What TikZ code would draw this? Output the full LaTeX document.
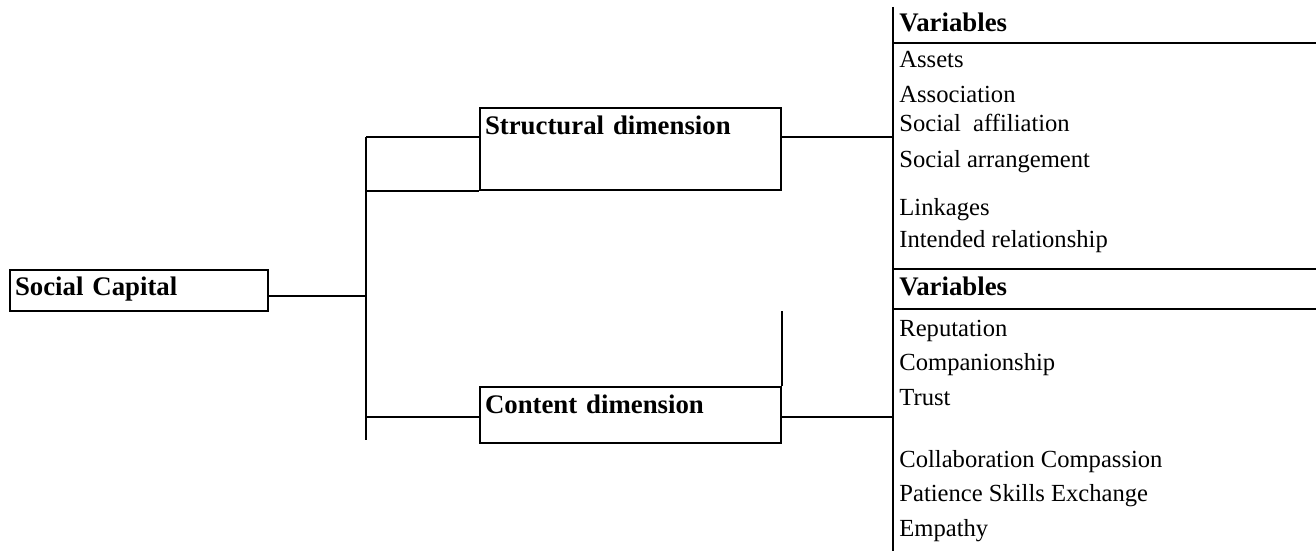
\documentclass[tikz,border=0pt]{standalone}
\usepackage{fontspec}
\setmainfont{Liberation Serif}
\begin{document}
\begin{tikzpicture}[x=0.5pt,y=-0.5pt]

    \tikzset{
      dimbox/.style={
        draw,
        line width=1pt,
        anchor=north west,
        inner xsep=2.5pt,
        inner ysep=0pt,
        font=\fontsize{13.4}{15}\selectfont\bfseries,
      },
      varlabel/.style={
        anchor=base west,
        inner sep=0pt,
        font=\fontsize{12.3}{14}\selectfont,
      },
      varhead/.style={
        varlabel,
        font=\fontsize{13.4}{15}\selectfont\bfseries,
      },
      link/.style={line width=1pt},
    }
    \useasboundingbox (0,0) rectangle (1316,551);

	\node[dimbox, text width=124pt, text height=12.5pt, text depth=8pt] (capital) at (9,269) {Social Capital};
	\node[dimbox, text width=145.5pt, text height=13pt, text depth=28pt] (structural) at (479,107) {Structural dimension};
	\node[dimbox, text width=145.5pt, text height=13pt, text depth=15pt] (content) at (479,386) {Content dimension};

	\coordinate (trunktop) at (366,137);
	\coordinate (trunkbot) at (366,440);
	\coordinate (capjoin) at (366,296);
	\coordinate (contjoin) at (366,417);
	\coordinate (rail) at (893,7);
	\coordinate (railend) at (893,551);

	\draw[link] (capital.east |- capjoin) -- (capjoin);
	\draw[link] (trunktop) -- (trunkbot);
	\draw[link] (trunktop) -- (trunktop -| structural.west);
	\draw[link] (trunktop |- structural.south west) -- (structural.south west);
	\draw[link] (contjoin) -- (contjoin -| content.west);
	\draw[link] (structural.east |- trunktop) -- (trunktop -| rail);
	\draw[link] (content.east |- contjoin) -- (contjoin -| rail);
	\draw[link] (content.north east) -- ++(0,-75);
	\draw[link] (rail) -- (railend);
	\foreach \y in {43,269,309} \draw[link] (893,\y) -- (1316,\y);

	\node[varhead] (head-struct) at (899,32) {Variables};
	\node[varhead] (head-cont) at (899,295) {Variables};
	\foreach \y/\txt in {68/Assets, 103/Association, 132/Social\ \ affiliation, 167/Social arrangement,
	    215/Linkages, 247/Intended relationship, 336/Reputation, 370/Companionship, 405/Trust,
	    467/Collaboration Compassion, 501/Patience Skills Exchange, 536/Empathy}
	  \node[varlabel] (var-\y) at (899,\y) {\txt};

\end{tikzpicture}
\end{document}
